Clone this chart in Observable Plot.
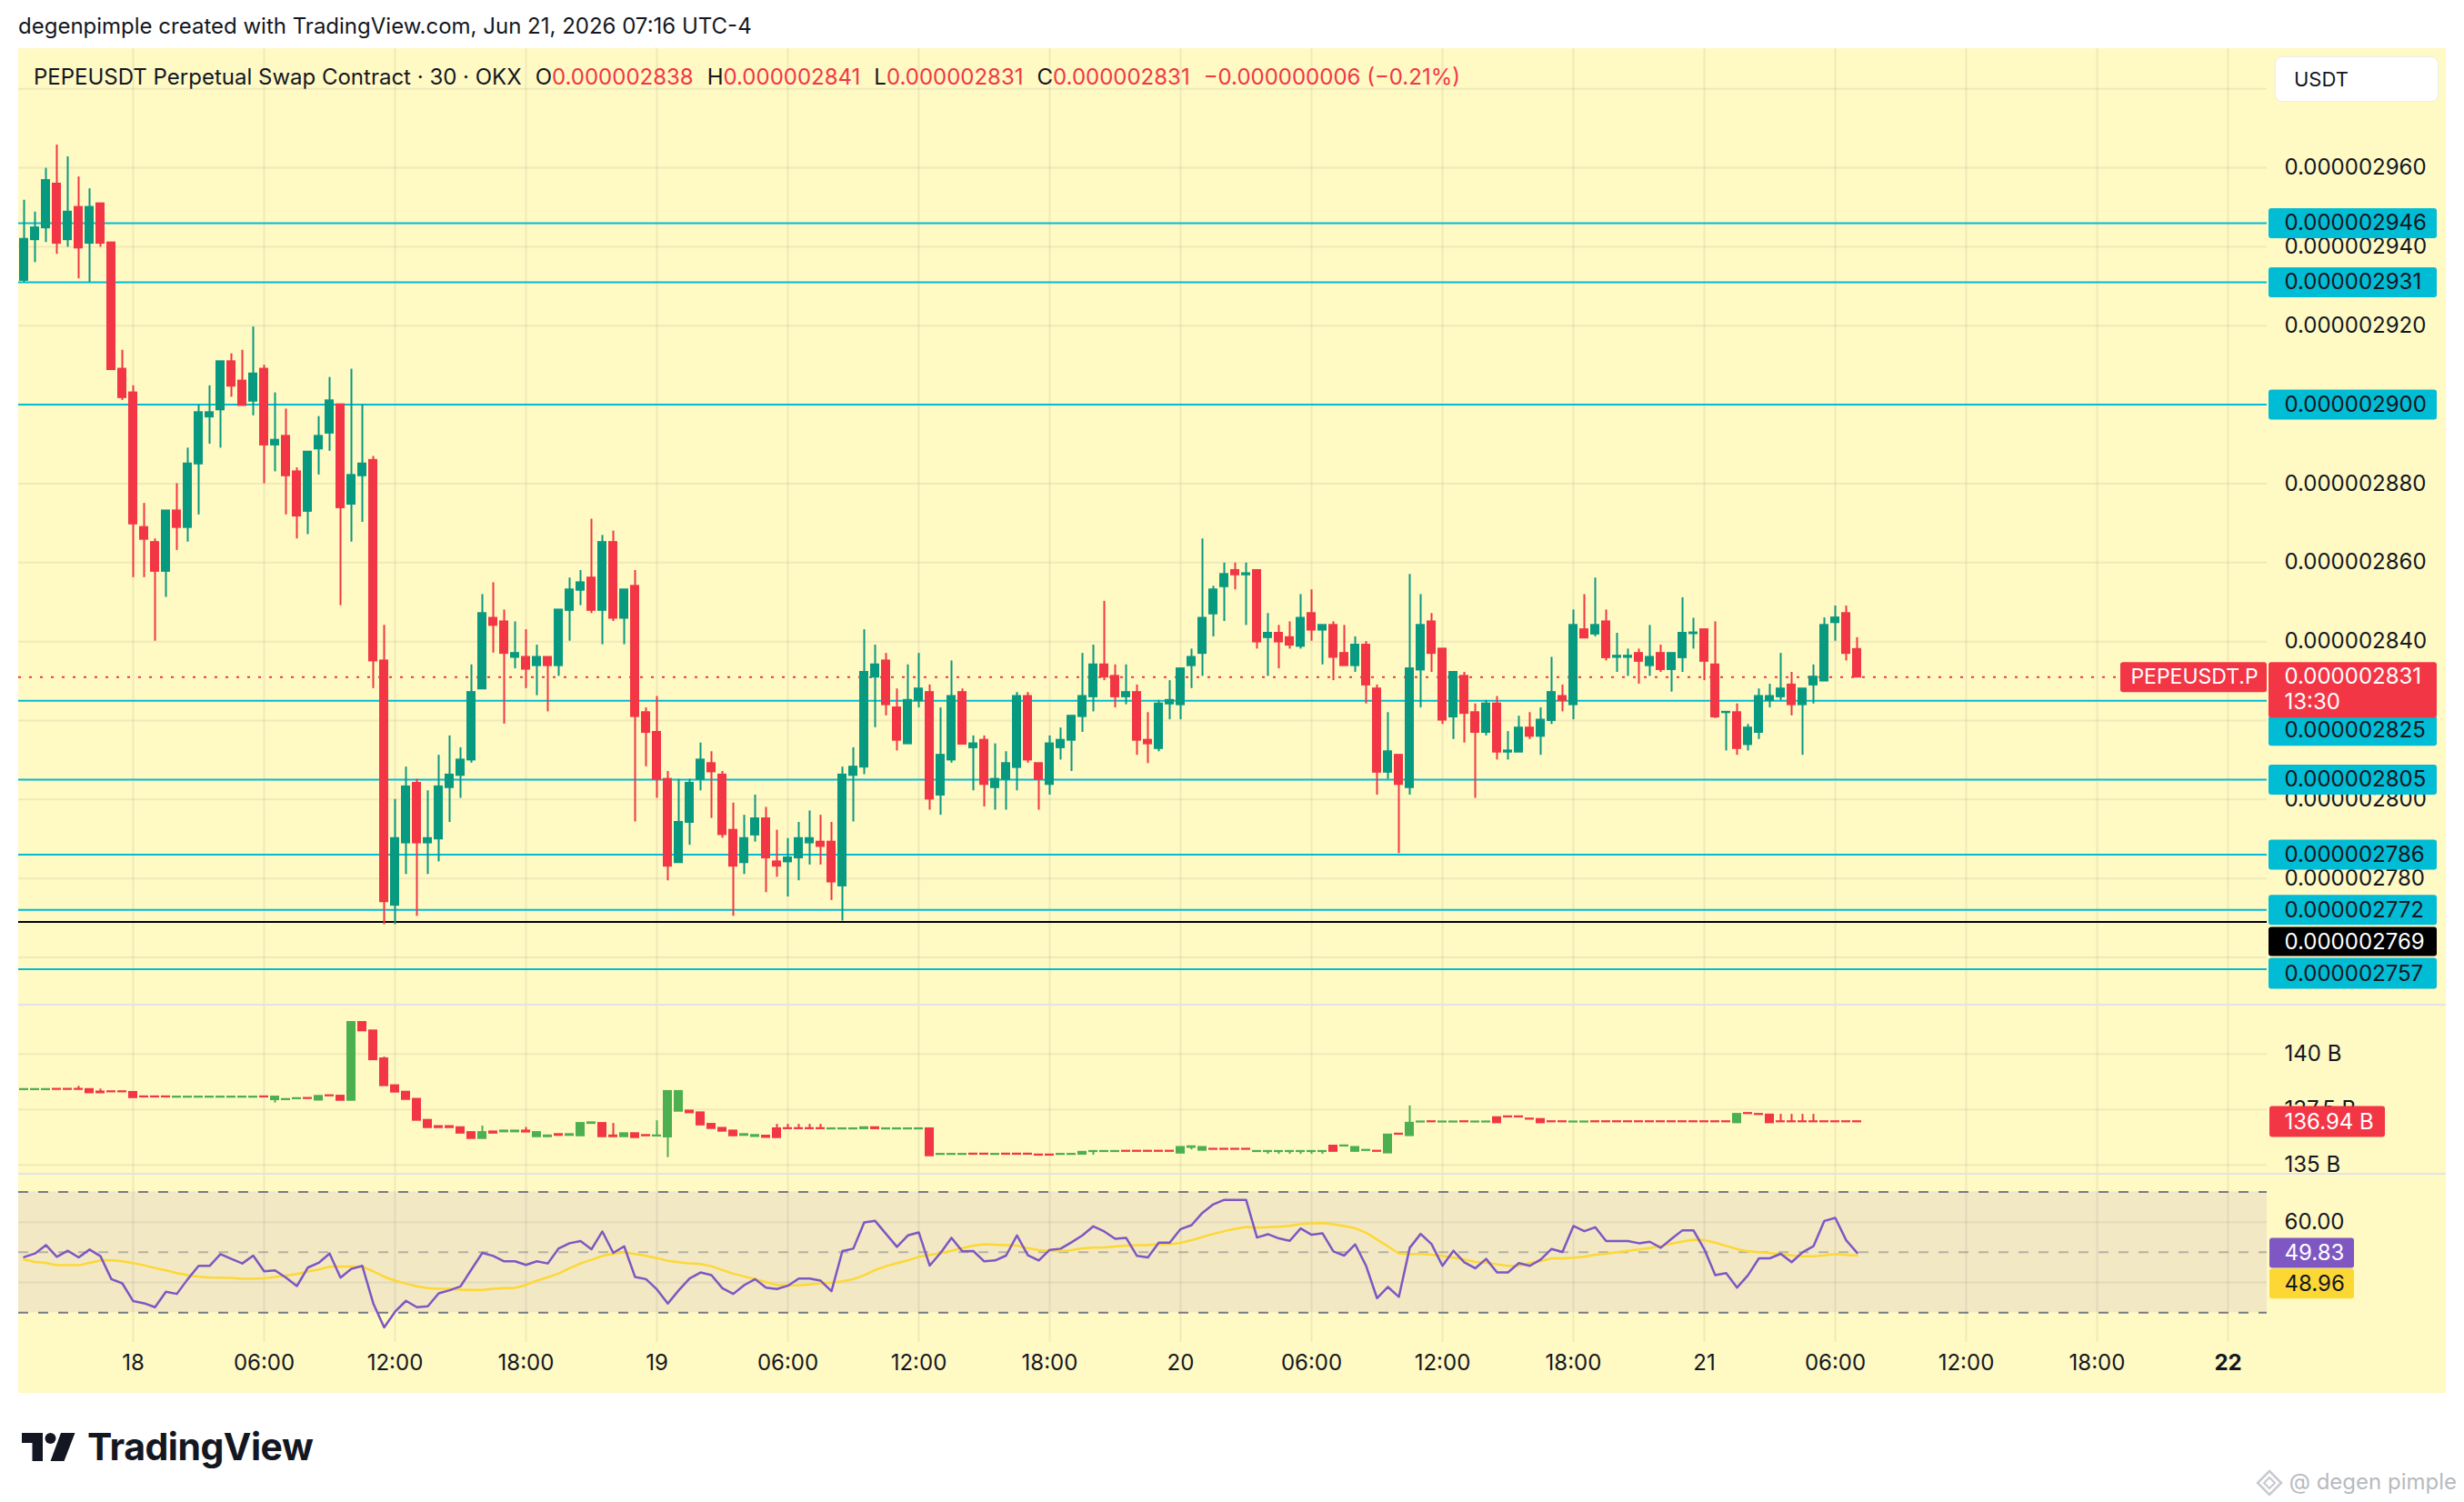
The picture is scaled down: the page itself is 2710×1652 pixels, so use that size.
<!DOCTYPE html>
<html><head><meta charset="utf-8">
<script src="https://cdn.jsdelivr.net/npm/d3@7"></script>
<script src="https://cdn.jsdelivr.net/npm/@observablehq/plot@0.6"></script>
<style>
html,body{margin:0;padding:0;background:#fff;}
body{width:2710px;height:1652px;position:relative;overflow:hidden;font-family:Inter,"Noto Sans",sans-serif;color:#131722;}
#root{position:relative;width:2710px;height:1652px;}
.abs{position:absolute;white-space:nowrap;}
.k{margin-left:15px;color:#131722;}
.v{color:#f23645;}
</style></head><body>
<div id="root"></div>
<script>
// ---------------- DATA (prices in units of 1e-9 USDT) ----------------
const symbol = "PEPEUSDT.P";
const open = [
2931.5,2941.8,2944.8,2955.9,2941.8,2950.0,2940.9,2950.9,2941.0,2909.0,
2903.0,2868.9,2865.1,2857.8,2873.1,2868.9,2885.0,2896.9,2898.7,2910.9,
2906.0,2900.9,2909.0,2889.8,2892.0,2883.0,2873.0,2888.8,2892.8,2900.0,
2874.8,2882.0,2885.9,2835.1,2773.2,2789.0,2804.1,2789.0,2790.0,2803.0,
2806.1,2810.0,2828.0,2845.9,2845.0,2836.0,2836.0,2833.9,2836.0,2833.9,
2847.9,2853.0,2856.1,2847.9,2865.1,2845.9,2854.0,2822.0,2817.0,2805.1,
2784.0,2794.2,2805.1,2809.1,2806.2,2792.2,2784.0,2791.0,2795.1,2784.2,
2784.2,2785.2,2789.0,2789.2,2789.2,2778.1,2806.1,2808.2,2831.0,2835.1,
2823.2,2814.1,2825.0,2827.1,2801.1,2810.0,2827.1,2813.1,2815.0,2803.0,
2805.1,2808.1,2826.1,2809.1,2803.8,2813.1,2815.0,2821.0,2826.0,2834.1,
2831.2,2826.0,2827.1,2815.0,2812.9,2824.2,2824.0,2833.9,2837.0,2847.0,
2853.9,2858.0,2856.9,2858.0,2841.0,2842.1,2841.0,2838.8,2847.1,2842.9,
2844.1,2837.0,2833.9,2839.1,2828.0,2806.9,2811.2,2803.0,2832.8,2845.0,
2838.1,2820.9,2831.2,2822.0,2817.0,2824.2,2812.0,2812.0,2818.1,2816.0,
2820.0,2826.1,2824.0,2843.0,2841.9,2845.0,2836.0,2836.0,2837.0,2833.9,
2837.0,2832.9,2835.9,2842.0,2843.0,2834.1,2822.0,2822.0,2813.9,2817.0,
2825.1,2826.0,2829.0,2824.0,2829.0,2830.0,2844.8,2847.1,2838.0];
const high = [
2951.8,2948.8,2959.9,2965.8,2962.8,2957.7,2954.7,2950.9,2941.0,2913.8,
2904.8,2875.0,2866.0,2873.1,2880.0,2889.0,2900.0,2904.8,2910.9,2912.9,
2913.8,2919.7,2910.0,2903.0,2898.9,2884.0,2888.0,2897.0,2906.9,2900.0,
2909.0,2900.0,2886.9,2844.1,2800.0,2808.2,2805.1,2802.2,2811.2,2816.1,
2813.1,2834.1,2851.9,2854.9,2848.0,2845.0,2843.0,2839.1,2836.0,2848.0,
2856.1,2858.0,2871.0,2866.9,2868.0,2853.1,2858.0,2823.2,2826.1,2807.1,
2805.1,2805.1,2814.3,2812.1,2807.1,2799.1,2796.0,2801.1,2798.0,2792.2,
2790.1,2794.2,2797.1,2796.0,2794.2,2808.2,2813.1,2843.0,2839.1,2837.0,
2828.0,2834.1,2837.0,2829.0,2823.2,2835.1,2828.0,2816.1,2816.1,2814.1,
2812.1,2827.1,2827.1,2809.1,2816.1,2818.1,2821.1,2837.0,2839.1,2850.2,
2834.1,2834.1,2829.0,2822.0,2825.1,2830.1,2833.1,2838.1,2866.0,2854.0,
2859.9,2859.9,2859.9,2858.0,2847.1,2844.1,2845.0,2851.9,2853.1,2844.1,
2845.0,2844.1,2841.2,2840.0,2829.0,2822.0,2811.2,2857.0,2851.9,2847.1,
2838.1,2832.2,2832.2,2824.2,2825.1,2826.1,2817.2,2821.1,2822.0,2823.2,
2836.0,2829.0,2848.0,2851.9,2856.1,2848.0,2842.1,2838.1,2838.1,2844.1,
2839.1,2837.0,2851.1,2845.9,2843.0,2845.0,2822.2,2824.2,2819.0,2828.0,
2829.2,2837.0,2832.2,2828.0,2834.1,2846.0,2849.0,2849.0,2841.0];
const low = [
2931.0,2936.0,2941.1,2938.1,2939.9,2931.9,2931.0,2939.9,2908.9,2901.1,
2856.2,2856.2,2840.1,2851.2,2863.1,2865.2,2872.1,2890.0,2889.0,2901.9,
2899.8,2897.2,2880.0,2883.0,2872.1,2866.0,2867.1,2882.2,2888.2,2849.1,
2865.2,2870.2,2828.1,2768.3,2768.3,2781.0,2770.4,2781.0,2784.2,2794.2,
2800.3,2809.2,2828.0,2837.1,2819.1,2833.1,2828.1,2826.3,2822.2,2831.2,
2840.1,2849.1,2847.1,2839.2,2845.1,2839.2,2794.3,2808.3,2800.3,2779.4,
2784.0,2788.4,2802.2,2795.2,2790.2,2770.4,2781.0,2789.2,2776.4,2780.3,
2775.3,2779.4,2783.4,2783.4,2774.4,2769.2,2794.3,2806.3,2818.2,2821.2,
2812.3,2814.1,2823.2,2797.3,2796.0,2809.2,2814.0,2802.2,2798.1,2797.3,
2797.3,2802.2,2809.2,2797.3,2801.1,2810.0,2807.1,2817.0,2822.2,2830.1,
2823.2,2824.0,2811.2,2809.1,2812.1,2820.2,2820.2,2828.1,2831.2,2841.2,
2845.1,2853.1,2844.1,2838.1,2831.2,2833.1,2838.1,2838.1,2840.1,2834.1,
2830.1,2833.9,2832.2,2824.2,2801.1,2805.1,2786.3,2801.1,2823.2,2832.2,
2819.0,2815.2,2814.3,2800.3,2816.1,2810.0,2810.0,2812.0,2815.2,2811.2,
2819.0,2822.2,2820.2,2840.9,2841.2,2835.1,2832.2,2831.2,2829.2,2831.2,
2832.2,2827.2,2832.2,2838.1,2830.1,2820.5,2812.3,2811.2,2812.3,2815.2,
2823.2,2825.1,2821.2,2811.2,2824.2,2830.0,2840.1,2835.1,2831.0];
const close = [
2941.9,2944.8,2956.8,2940.9,2948.8,2939.7,2950.0,2940.9,2908.9,2901.8,
2869.8,2865.9,2857.8,2873.1,2868.9,2885.0,2898.0,2898.0,2910.9,2904.7,
2899.8,2907.8,2889.8,2891.0,2882.0,2871.8,2888.0,2892.0,2901.0,2873.9,
2882.1,2885.0,2835.1,2774.1,2790.1,2803.2,2789.0,2790.1,2803.2,2806.2,
2810.0,2827.1,2847.1,2844.1,2837.0,2837.0,2833.0,2836.0,2833.9,2848.0,
2853.1,2854.9,2847.9,2865.1,2845.9,2853.1,2821.0,2817.0,2805.1,2783.1,
2794.2,2804.1,2810.0,2807.0,2791.1,2783.1,2790.1,2795.1,2785.2,2783.1,
2785.2,2790.1,2790.1,2788.1,2779.1,2806.2,2808.2,2832.2,2834.1,2824.0,
2815.0,2825.1,2828.0,2800.1,2811.2,2826.1,2814.0,2814.1,2803.8,2805.1,
2809.1,2826.1,2810.0,2805.1,2814.1,2815.0,2821.1,2826.1,2834.1,2831.0,
2826.0,2827.1,2815.0,2814.1,2824.2,2825.1,2833.1,2836.0,2845.9,2853.1,
2857.0,2856.9,2857.2,2839.9,2842.1,2839.9,2839.1,2845.9,2842.9,2844.1,
2836.0,2833.9,2839.1,2829.0,2806.9,2812.1,2803.8,2833.1,2844.1,2837.0,
2820.1,2832.2,2821.8,2817.0,2824.2,2812.0,2812.3,2818.1,2816.0,2820.1,
2827.1,2825.1,2844.1,2840.9,2844.1,2835.9,2836.3,2836.3,2835.0,2836.0,
2832.9,2837.0,2842.1,2842.2,2835.0,2820.9,2822.1,2812.9,2818.1,2826.1,
2826.1,2828.0,2824.0,2828.0,2831.0,2844.1,2846.0,2837.0,2831.0];

// horizontal levels drawn on the chart
const levels = [2946, 2931, 2900, 2825, 2805, 2786, 2772, 2757];
const swingLow = 2769;
const lastPrice = 2831;
const countdown = "13:30";
const priceGrid = [2760, 2780, 2800, 2820, 2840, 2860, 2880, 2900, 2920, 2940, 2960, 2980];
const priceTickLabels = [2960, 2940, 2920, 2900, 2880, 2860, 2840, 2800, 2780];

// open interest pane (billions)
const oiOpen = [
138.39,138.39,138.39,138.41,138.41,138.41,138.40,138.29,138.30,138.30,
138.27,138.07,138.07,138.07,138.05,138.05,138.05,138.05,138.05,138.05,
138.05,138.05,138.07,137.94,137.94,137.98,138.00,137.92,138.12,138.10,
137.91,141.42,141.04,139.78,138.57,138.28,137.96,137.01,136.73,136.73,
136.68,136.46,136.19,136.49,136.49,136.49,136.53,136.27,136.27,136.37,
136.33,136.31,136.87,136.87,136.31,136.27,136.41,136.33,136.30,136.26,
137.42,137.43,137.35,136.83,136.65,136.53,136.33,136.28,136.30,136.63,
136.64,136.64,136.64,136.64,136.62,136.62,136.62,136.63,136.68,136.62,
136.62,136.62,136.62,136.63,135.47,135.47,135.47,135.49,135.49,135.47,
135.49,135.49,135.49,135.45,135.45,135.47,135.47,135.48,135.60,135.60,
135.60,135.62,135.62,135.62,135.62,135.62,135.53,135.79,135.66,135.71,
135.71,135.71,135.71,135.60,135.60,135.60,135.60,135.60,135.60,135.60,
135.85,135.85,135.61,135.65,135.62,135.54,136.39,136.32,136.93,136.95,
136.93,136.93,136.95,136.93,136.93,137.13,137.17,137.17,137.07,137.05,
136.95,136.95,136.93,136.93,136.95,136.95,136.95,136.95,136.95,136.95,
136.95,136.95,136.95,136.95,136.95,136.95,136.95,136.90,137.32,137.28,
137.25,136.95,136.95,136.95,136.95,136.95,136.95,136.95,136.95];
const oiClose = [
138.40,138.40,138.40,138.40,138.40,138.40,138.25,138.25,138.29,138.29,
138.03,138.06,138.06,138.06,138.06,138.06,138.06,138.06,138.06,138.06,
138.06,138.06,138.06,138.06,137.95,137.99,137.99,138.09,138.11,137.91,
141.42,141.04,139.74,138.57,138.28,137.95,137.01,136.68,136.68,136.68,
136.43,136.19,136.46,136.43,136.53,136.53,136.48,136.46,136.31,136.33,
136.37,136.87,136.90,136.27,136.27,136.41,136.23,136.31,136.31,138.31,
138.31,137.35,136.80,136.64,136.52,136.31,136.37,136.33,136.24,136.23,
136.63,136.63,136.63,136.63,136.63,136.63,136.63,136.68,136.63,136.63,
136.63,136.63,136.63,135.41,135.48,135.48,135.48,135.48,135.48,135.48,
135.48,135.48,135.48,135.44,135.44,135.48,135.48,135.57,135.61,135.61,
135.61,135.61,135.61,135.61,135.61,135.61,135.79,135.82,135.79,135.70,
135.70,135.70,135.70,135.61,135.61,135.61,135.61,135.61,135.61,135.61,
135.61,135.86,135.79,135.66,135.61,136.35,136.38,136.88,136.94,136.94,
136.94,136.94,136.94,136.94,136.94,136.90,137.16,137.16,137.06,136.90,
136.94,136.94,136.94,136.94,136.94,136.94,136.94,136.94,136.94,136.94,
136.94,136.94,136.94,136.94,136.94,136.94,136.94,137.28,137.31,137.27,
136.90,136.94,136.94,136.94,136.94,136.94,136.94,136.94,136.94];
const oiWickIdx  = [5, 7, 23, 33, 42, 46, 54, 58, 59, 69, 70, 71, 72, 73, 98, 107, 114, 115, 116, 117, 118, 119, 127, 161, 162, 163, 164];
const oiWickLow  = [138.40,138.25,137.79,138.57,136.19,136.48,136.27,136.31,135.33,136.23,136.63,136.63,136.63,136.63,135.44,135.68,135.48,135.48,135.48,135.48,135.48,135.48,136.32,136.94,136.94,136.94,136.94];
const oiWickHigh = [138.54,138.42,138.06,139.86,136.75,136.69,136.87,136.99,138.34,136.83,136.83,136.83,136.83,136.83,135.61,135.82,135.61,135.61,135.61,135.61,135.61,135.61,137.66,137.28,137.28,137.28,137.28];
const oiGrid = [135, 137.5, 140];
const oiTickLabels = ["135 B", "137.5 B", "140 B"];
const oiLast = 136.94;

// RSI pane
const rsi = [
48.4,49.6,52.4,48.5,50.5,48.3,50.9,48.7,41.1,39.7,
33.8,33.1,31.8,36.9,36.2,41.1,45.5,45.5,49.4,47.8,
46.3,48.9,43.7,44.0,41.6,38.8,44.9,46.5,49.6,41.6,
44.5,45.5,33.1,25.1,30.3,33.9,31.8,32.1,36.4,37.4,
38.7,44.3,49.8,48.8,47.0,47.0,45.8,47.0,46.3,51.3,
53.0,53.7,51.0,56.9,49.8,52.0,41.8,41.1,37.7,33.0,
37.4,41.3,43.3,42.4,38.1,36.2,39.1,41.1,38.3,37.8,
38.9,41.3,41.3,40.6,37.1,50.4,51.2,59.9,60.4,56.1,
51.8,55.6,56.6,45.6,49.8,54.8,50.3,50.4,47.0,47.3,
48.9,55.6,49.0,47.3,50.8,51.2,53.3,55.6,58.6,56.9,
54.5,54.8,48.8,48.3,53.2,53.2,57.7,59.0,63.1,65.9,
67.4,67.4,67.4,54.9,56.0,54.6,53.8,57.9,55.8,56.3,
50.3,48.9,52.6,45.5,34.8,38.5,35.2,51.5,56.1,52.7,
45.5,50.5,46.7,44.7,47.8,43.3,43.3,46.4,45.5,47.6,
51.1,50.1,58.7,57.0,58.3,53.7,53.7,53.7,53.0,53.5,
51.5,54.5,57.3,57.3,51.0,42.4,43.1,38.3,42.4,48.0,
48.0,49.5,46.7,50.0,52.0,60.4,61.4,54.0,49.83];
const rsiMA = [
47.6,46.8,46.5,45.7,45.7,45.7,46.5,47.3,47.4,47.0,
46.4,45.7,44.8,44.0,43.1,42.4,41.9,41.7,41.6,41.5,
41.2,41.2,41.4,41.8,42.3,42.8,43.6,44.3,45.2,45.3,
45.3,45.2,43.7,41.9,40.6,39.6,38.7,38.1,37.9,37.9,
37.6,37.5,37.5,37.9,38.1,38.2,39.2,40.6,41.7,43.0,
44.7,46.3,47.5,48.8,49.5,50.0,49.4,48.8,48.1,47.2,
46.7,46.3,46.1,45.4,44.1,42.9,42.0,41.1,40.1,39.2,
39.0,39.0,39.3,39.7,39.9,40.4,41.1,42.4,44.1,45.4,
46.4,47.3,48.5,49.1,49.7,50.5,51.4,52.2,52.7,52.5,
52.4,52.2,51.4,50.7,50.5,50.4,50.7,51.3,51.5,51.6,
51.9,52.2,52.4,52.4,52.7,52.7,53.1,54.0,55.1,56.1,
57.0,57.8,58.4,58.2,58.3,58.5,58.8,59.4,59.6,59.7,
59.3,58.7,58.0,56.5,54.2,52.0,49.6,49.4,49.4,49.2,
48.8,48.2,47.6,46.8,46.6,46.0,45.5,45.6,46.4,47.1,
48.0,48.0,48.2,48.5,49.2,49.5,50.0,50.5,50.9,51.4,
52.1,52.9,53.6,54.2,54.0,53.2,52.1,51.1,50.3,50.0,
49.7,49.4,49.0,48.7,48.7,49.0,49.4,49.1,48.96];
const rsiBand = [30, 70];
const rsiMid = 50;
const rsiGrid = [40, 60];
const rsiTickLabels = [60];

// time axis
const timeTickLabels = ["18","06:00","12:00","18:00","19","06:00","12:00","18:00","20","06:00","12:00","18:00","21","06:00","12:00","18:00","22"];

// ---------------- LAYOUT / STYLE ----------------
const UP = "#089981", DOWN = "#f23645", OI_UP = "#4caf50", OI_DOWN = "#f23645";
const CYAN = "#00bcd4", PURPLE = "#7e57c2", YELLOW = "#fdd835";
const GRID = "rgba(42,46,57,0.07)";
const BG = "#fff9c4";
const chartLeft = 20, chartTop = 53, chartRight = 2690, chartBottom = 1532, plotRight = 2493;
const PW = plotRight - chartLeft, AW = chartRight - plotRight;
const STEP = 30 * 60000, HALF = 12.5 * 60000;
const t0 = Date.UTC(2026, 5, 17, 19, 0);
const times = open.map((_, i) => new Date(t0 + i * STEP));
const xDomain = [new Date(t0 - 0.5 * STEP), new Date(t0 + (PW / 12 - 0.5) * STEP)];
const firstTick = Date.UTC(2026, 5, 18, 0, 0);
const timeTicks = timeTickLabels.map((label, k) => ({t: new Date(firstTick + k * 6 * 3600000), label}));
const tickTimes = timeTicks.map(d => d.t);

const candles = times.map((t, i) => ({t, o: open[i], h: high[i], l: low[i], c: close[i]}));
const oiRows = times.map((t, i) => ({t, o: oiOpen[i], c: oiClose[i]}));
const oiWicks = oiWickIdx.map((i, k) => ({t: times[i], l: oiWickLow[k], h: oiWickHigh[k], up: oiClose[i] >= oiOpen[i]}));
const rsiRows = times.map((t, i) => ({t, v: rsi[i], m: rsiMA[i]}));

const fmtPrice = v => (v / 1e9).toFixed(9);
const candleColor = d => d.c >= d.o ? UP : DOWN;
const oiColor = d => d.c >= d.o ? OI_UP : OI_DOWN;
const plotStyle = {background: "transparent", fontFamily: "Inter, 'Noto Sans', sans-serif", overflow: "visible"};
const x1 = d => new Date(+d.t - HALF), x2 = d => new Date(+d.t + HALF);

const root = document.getElementById("root");
function put(node, left, top) {
  const d = document.createElement("div");
  d.className = "abs"; d.style.left = left + "px"; d.style.top = top + "px";
  d.appendChild(node); root.appendChild(d); return d;
}
function html(str, css) {
  const d = document.createElement("div");
  d.className = "abs"; d.style.cssText += css; d.innerHTML = str;
  root.appendChild(d); return d;
}

const priceTop = chartTop, priceH = 1052;
const oiTop = priceTop + priceH, oiH = 186;
const rsiTop = oiTop + oiH, rsiH = chartBottom - rsiTop, rsiMB = 56;
const priceDomain = [2747.9, 2990.2];
const oiDomain = [134.58, 142.2];
const rsiDomain = [20.11, 75.88];

// label box helper for the right-hand scale columns
function box(vals, {fill, color, top = -16, bottom = -17, left = 2, right = 10, dy = 0, fmt = fmtPrice}) {
  return [
    Plot.rect(vals, {y1: d => d, y2: d => d, insetTop: top, insetBottom: bottom, insetLeft: left, insetRight: right, fill, rx: 3}),
    Plot.text(vals, {y: d => d, text: fmt, frameAnchor: "left", dx: 19, dy, textAnchor: "start", fontSize: 24, fill: color})
  ];
}

html("", `left:${chartLeft}px;top:${chartTop}px;width:${chartRight - chartLeft}px;height:${chartBottom - chartTop}px;background:${BG};`);

// ---------------- PRICE PANE ----------------
const common = {width: PW, marginLeft: 0, marginRight: 0, marginTop: 0, marginBottom: 0,
  x: {type: "utc", domain: xDomain, axis: null}, color: {type: "identity"}, style: plotStyle};

put(Plot.plot({
  ...common, height: priceH,
  y: {domain: priceDomain, axis: null},
  marks: [
    Plot.ruleY(priceGrid, {stroke: GRID, strokeWidth: 2}),
    Plot.ruleX(tickTimes, {stroke: GRID, strokeWidth: 2}),
    Plot.ruleY(levels, {stroke: CYAN, strokeWidth: 2}),
    Plot.ruleY([swingLow], {stroke: "#000", strokeWidth: 2}),
    Plot.ruleY([lastPrice], {stroke: DOWN, strokeWidth: 2, strokeDasharray: "3,9"}),
    Plot.ruleX(candles, {x: "t", y1: "l", y2: "h", stroke: candleColor, strokeWidth: 2}),
    Plot.rect(candles, {x1, x2, y1: "o", y2: "c", fill: candleColor, insetTop: -1, insetBottom: -1}),
    Plot.rect([lastPrice], {y1: d => d, y2: d => d, insetTop: -16, insetBottom: -17, insetLeft: 2312, insetRight: 0, fill: DOWN, rx: 3}),
    Plot.text([lastPrice], {y: d => d, text: () => symbol, frameAnchor: "right", dx: -80, textAnchor: "middle", fill: "#fff", fontSize: 23})
  ]
}), chartLeft, priceTop);

put(Plot.plot({
  width: AW, height: priceH, margin: 0, style: plotStyle,
  y: {domain: priceDomain, axis: null},
  marks: [
    Plot.text(priceTickLabels, {y: d => d, text: fmtPrice, frameAnchor: "left", dx: 19, textAnchor: "start", fontSize: 24, fill: "#131722"}),
    ...box(levels.filter(v => v !== 2825 && v !== 2757), {fill: CYAN, color: "#131722"}),
    ...box([2825], {fill: CYAN, color: "#131722", top: 17, bottom: -50, dy: 33}),
    ...box([2757], {fill: CYAN, color: "#131722", top: -12, bottom: -22, dy: 5}),
    ...box([swingLow], {fill: "#000", color: "#fff", top: 6, bottom: -38, dy: 22}),
    ...box([lastPrice], {fill: DOWN, color: "#fff", top: -16, bottom: -45}),
    Plot.text([countdown], {y: () => lastPrice, text: d => d, frameAnchor: "left", dx: 19, dy: 28, textAnchor: "start", fontSize: 24, fill: "#fff"})
  ]
}), plotRight, priceTop);

// ---------------- OPEN INTEREST PANE ----------------
put(Plot.plot({
  ...common, height: oiH,
  y: {domain: oiDomain, axis: null},
  marks: [
    Plot.ruleY(oiGrid, {stroke: GRID, strokeWidth: 2}),
    Plot.ruleX(tickTimes, {stroke: GRID, strokeWidth: 2}),
    Plot.ruleX(oiWicks, {x: "t", y1: "l", y2: "h", stroke: d => d.up ? OI_UP : OI_DOWN, strokeWidth: 2}),
    Plot.rect(oiRows, {x1, x2, y1: "o", y2: "c", fill: oiColor, insetTop: -1, insetBottom: -1})
  ]
}), chartLeft, oiTop);

put(Plot.plot({
  width: AW, height: oiH, margin: 0, style: plotStyle,
  y: {domain: oiDomain, axis: null},
  marks: [
    Plot.text(oiGrid, {y: d => d, text: (d, i) => oiTickLabels[i], frameAnchor: "left", dx: 19, textAnchor: "start", fontSize: 24, fill: "#131722"}),
    ...box([oiLast], {fill: OI_DOWN, color: "#fff", top: -17, bottom: -17, left: 3, right: 67, fmt: d => d.toFixed(2) + " B"})
  ]
}), plotRight, oiTop);

// ---------------- RSI PANE ----------------
put(Plot.plot({
  ...common, height: rsiH, marginBottom: rsiMB,
  y: {domain: rsiDomain, axis: null},
  marks: [
    Plot.rect([rsiBand], {y1: d => d[0], y2: d => d[1], fill: PURPLE, fillOpacity: 0.1}),
    Plot.ruleY(rsiGrid, {stroke: GRID, strokeWidth: 2}),
    Plot.ruleX(tickTimes, {stroke: GRID, strokeWidth: 2}),
    Plot.ruleY(rsiBand, {stroke: "#787b86", strokeWidth: 2, strokeDasharray: "11,11"}),
    Plot.ruleY([rsiMid], {stroke: "#787b86", strokeOpacity: 0.5, strokeWidth: 2, strokeDasharray: "11,11"}),
    Plot.line(rsiRows, {x: "t", y: "m", stroke: YELLOW, strokeWidth: 2.5}),
    Plot.line(rsiRows, {x: "t", y: "v", stroke: PURPLE, strokeWidth: 2.5}),
    Plot.text(timeTicks.slice(0, -1), {x: "t", text: "label", frameAnchor: "bottom", dy: 30, fontSize: 24, fill: "#131722"}),
    Plot.text(timeTicks.slice(-1), {x: "t", text: "label", frameAnchor: "bottom", dy: 30, fontSize: 24, fontWeight: 700, fill: "#131722"})
  ]
}), chartLeft, rsiTop);

put(Plot.plot({
  width: AW, height: rsiH, margin: 0, marginBottom: rsiMB, style: plotStyle,
  y: {domain: rsiDomain, axis: null},
  marks: [
    Plot.text(rsiTickLabels, {y: d => d, text: d => d.toFixed(2), frameAnchor: "left", dx: 19, textAnchor: "start", fontSize: 24, fill: "#131722"}),
    ...box([rsi[rsi.length - 1]], {fill: PURPLE, color: "#fff", top: -16, bottom: -17, left: 3, right: 101, fmt: d => d.toFixed(2)}),
    ...box([rsiMA[rsiMA.length - 1]], {fill: YELLOW, color: "#131722", top: 15, bottom: -48, left: 3, right: 101, dy: 32, fmt: d => d.toFixed(2)})
  ]
}), plotRight, rsiTop);

// pane separators
html("", `left:${chartLeft}px;top:${oiTop - 1}px;width:${chartRight - chartLeft}px;height:2px;background:#e0e3eb;`);
html("", `left:${chartLeft}px;top:${rsiTop - 1}px;width:${chartRight - chartLeft}px;height:2px;background:#e0e3eb;`);

// ---------------- TEXT ----------------
html("degenpimple created with TradingView.com, Jun 21, 2026 07:16 UTC-4", "left:20px;top:14px;font-size:24px;line-height:30px;color:#131722;");
const ohlcLast = [open[168], high[168], low[168], close[168]];
const chg = close[168] - close[167];
html(`PEPEUSDT Perpetual Swap Contract · 30 · OKX` +
  ["O","H","L","C"].map((k, i) => `<span class="k">${k}</span><span class="v">${fmtPrice(ohlcLast[i])}</span>`).join("") +
  `<span class="k v">−${fmtPrice(Math.abs(chg))} (−0.21%)</span>`,
  "left:37px;top:70px;font-size:24px;line-height:30px;color:#131722;");
html("USDT", "left:2502px;top:62px;width:158px;height:48px;padding-left:20px;line-height:48px;font-size:22px;background:#fff;border:1px solid #eceef2;border-radius:8px;");

html(`<svg width="60" height="32" viewBox="0 0 60 32"><path d="M0 0H23V31H11.5V11H0Z" fill="#131722"/><circle cx="31.5" cy="6" r="6" fill="#131722"/><path d="M43 0H58.5L46.5 31H31.5Z" fill="#131722"/></svg>`, "left:24px;top:1576px;");
html("TradingView", "left:96px;top:1566px;font-size:41px;font-weight:700;line-height:50px;color:#131722;letter-spacing:-0.5px;");
html(`<svg width="30" height="30" viewBox="0 0 30 30" style="vertical-align:middle"><path d="M15 2L28 15L15 28L2 15Z" fill="none" stroke="#c8cad0" stroke-width="2.5"/><path d="M15 9L21 15L15 21L9 15Z" fill="none" stroke="#c8cad0" stroke-width="2"/></svg> @ degen pimple`, "right:8px;top:1614px;font-size:24px;line-height:32px;color:#b8bac0;");
</script>
</body></html>
